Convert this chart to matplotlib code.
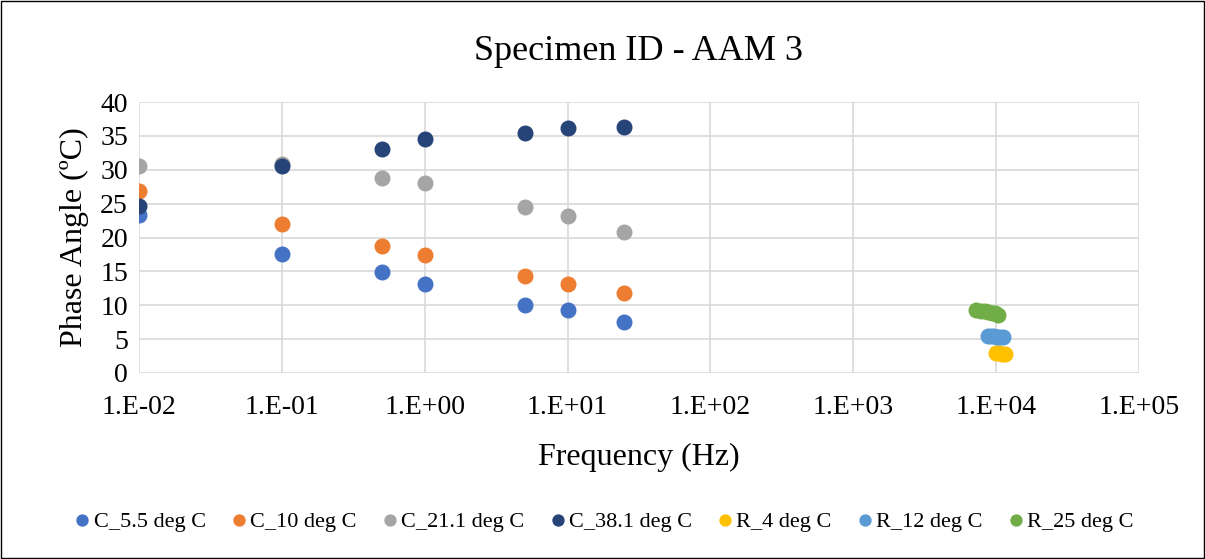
import math
import matplotlib.pyplot as plt
from matplotlib.ticker import FixedLocator, FuncFormatter

plt.rcParams['font.family'] = ['Liberation Serif', 'DejaVu Serif']

# lab frequencies (Hz)
freq_c = [0.01, 0.1, 0.5, 1, 5, 10, 25]
c_5_5 = [23.3, 17.6, 14.9, 13.1, 10.0, 9.3, 7.5]
c_10 = [26.9, 22.0, 18.7, 17.4, 14.3, 13.1, 11.8]
c_21_1 = [30.5, 30.8, 28.8, 28.0, 24.5, 23.2, 20.8]
c_38_1 = [24.6, 30.5, 33.1, 34.5, 35.4, 36.2, 36.3]

freq_r4 = [10000, 10500, 11000, 11600]
r_4 = [2.9, 2.9, 2.8, 2.8]
freq_r12 = [8700, 9200, 9700, 10200, 10700, 11200]
r_12 = [5.5, 5.4, 5.4, 5.3, 5.3, 5.3]
freq_r25 = [7200, 7800, 8300, 8800, 9300, 9800, 10300]
r_25 = [9.3, 9.2, 9.1, 9.0, 8.9, 8.8, 8.6]

series = [
    (freq_c, c_5_5, 'C_5.5 deg C', '#4472C4'),
    (freq_c, c_10, 'C_10 deg C', '#ED7D31'),
    (freq_c, c_21_1, 'C_21.1 deg C', '#A5A5A5'),
    (freq_c, c_38_1, 'C_38.1 deg C', '#264478'),
    (freq_r4, r_4, 'R_4 deg C', '#FFC000'),
    (freq_r12, r_12, 'R_12 deg C', '#5B9BD5'),
    (freq_r25, r_25, 'R_25 deg C', '#70AD47'),
]

fig = plt.figure(figsize=(12.05, 5.59), dpi=100)
ax = fig.add_axes([139/1205, 1 - 373/559, 1000/1205, 271/559])

for x, y, lab, col in series:
    ax.plot(x, y, 'o', color=col, markersize=10.5, label=lab, zorder=3)

ax.set_xscale('log')
ax.set_xlim(0.01, 1e5)
ax.set_ylim(0, 40)
ax.xaxis.set_major_locator(FixedLocator([10.0**k for k in range(-2, 6)]))
ax.xaxis.set_minor_locator(FixedLocator([]))
ax.xaxis.set_major_formatter(FuncFormatter(lambda v, p: '1.E%+03d' % round(math.log10(v))))
ax.set_yticks(range(0, 41, 5))
ax.grid(True, color='#D9D9D9', linewidth=1.2)
ax.set_axisbelow(True)
for s in ax.spines.values():
    s.set_visible(False)
ax.tick_params(axis='y', length=0, labelsize=20, pad=8)
ax.tick_params(axis='x', length=0, labelsize=20, pad=16)

ax.set_xlabel('Frequency (Hz)', fontsize=23, labelpad=16)
ax.set_ylabel('Phase Angle (ºC)', fontsize=23, labelpad=8)
ax.set_title('Specimen ID - AAM 3', fontsize=26, pad=30)

fig.legend(loc='center', bbox_to_anchor=(0.5, 1 - 522/559), ncol=7, frameon=False,
           fontsize=16, markerscale=0.75, handletextpad=0.0, columnspacing=1.0,
           handlelength=1.0)

fig.patches.append(plt.Rectangle((0.001, 0.002), 0.998, 0.996, transform=fig.transFigure,
                                 fill=False, edgecolor='black', linewidth=1))

fig.savefig('out.png', dpi=100)
